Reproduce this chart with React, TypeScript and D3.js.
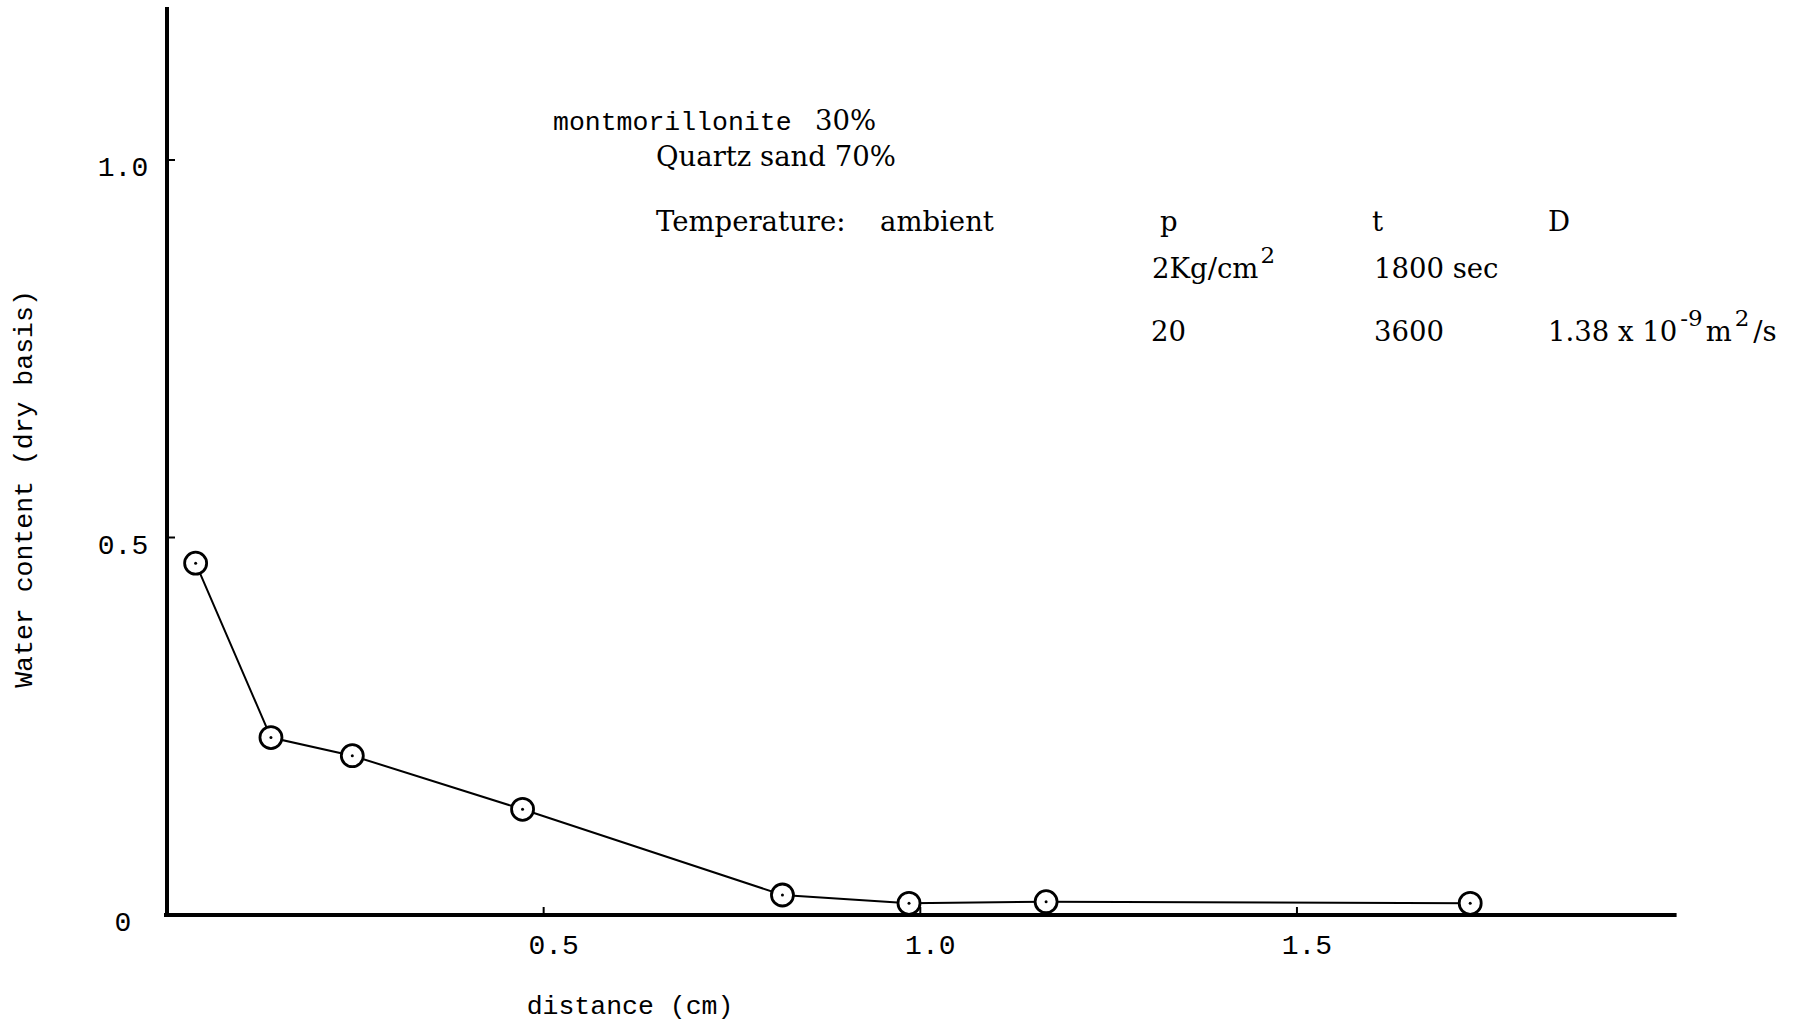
import React from "react";
import * as d3 from "d3";

// Measured water-content profile (dry basis) versus distance
const distanceCm = [0.038, 0.138, 0.246, 0.472, 0.817, 0.985, 1.167, 1.73];
const waterContent = [0.466, 0.235, 0.211, 0.14, 0.0265, 0.0155, 0.0176, 0.0155];

const xTicks = [0.5, 1.0, 1.5];
const xTickLabels = ["0.5", "1.0", "1.5"];
const yTicks = [0, 0.5, 1.0];
const yTickLabels = ["0", "0.5", "1.0"];

const W = 1801;
const H = 1025;

const MONO = "'Liberation Mono', 'DejaVu Sans Mono', monospace";
const SERIF = "'DejaVu Serif', 'Liberation Serif', serif";
const FS = 27.5;

export default function App() {
  const x = d3.scaleLinear().domain([0, 2]).range([167, 1673.6]);
  const y = d3.scaleLinear().domain([0, 1.2]).range([915, 9]);

  const pts = distanceCm.map((d, i) => [d, waterContent[i]] as [number, number]);
  const line = d3
    .line<[number, number]>()
    .x((d) => x(d[0]))
    .y((d) => y(d[1]));

  const x0 = x(0);
  const y0 = y(0);

  return (
    <svg
      width={W}
      height={H}
      viewBox={`0 0 ${W} ${H}`}
      style={{ position: "absolute", left: 0, top: 0, background: "#fff" }}
    >
      <rect x={0} y={0} width={W} height={H} fill="#fff" />

      {/* axes */}
      <line x1={x0} y1={y(1.2) - 2} x2={x0} y2={y0 + 2} stroke="#000" strokeWidth={4} />
      <line x1={x0 - 3} y1={y0} x2={x(2) + 3} y2={y0} stroke="#000" strokeWidth={4} />

      {/* y ticks */}
      {yTicks.map((v, i) => (
        <g key={`yt${i}`}>
          {v > 0 && (
            <line x1={x0} y1={y(v)} x2={x0 + 8} y2={y(v)} stroke="#000" strokeWidth={2} />
          )}
          <text
            x={123}
            y={y(v) + 16}
            textAnchor="middle"
            fontFamily={MONO}
            fontSize={28}
            fill="#000"
          >
            {yTickLabels[i]}
          </text>
        </g>
      ))}

      {/* x ticks */}
      {xTicks.map((v, i) => (
        <g key={`xt${i}`}>
          <line x1={x(v)} y1={y0} x2={x(v)} y2={y0 - 8} stroke="#000" strokeWidth={2} />
          <text
            x={x(v) + 10}
            y={954}
            textAnchor="middle"
            fontFamily={MONO}
            fontSize={28}
            fill="#000"
          >
            {xTickLabels[i]}
          </text>
        </g>
      ))}

      {/* axis titles */}
      <text
        x={630}
        y={1014}
        textAnchor="middle"
        fontFamily={MONO}
        fontSize={26.5}
        fill="#000"
      >
        distance (cm)
      </text>
      <text
        transform="translate(32,489) rotate(-90)"
        textAnchor="middle"
        fontFamily={MONO}
        fontSize={26.5}
        fill="#000"
      >
        Water content (dry basis)
      </text>

      {/* data line and markers */}
      <path d={line(pts) || ""} fill="none" stroke="#000" strokeWidth={2} />
      {pts.map((p, i) => (
        <g key={`pt${i}`}>
          <circle cx={x(p[0])} cy={y(p[1])} r={11} fill="#fff" stroke="#000" strokeWidth={2.8} />
          <circle cx={x(p[0])} cy={y(p[1])} r={1.5} fill="#000" />
        </g>
      ))}

      {/* annotation block */}
      <g fill="#000">
        <text x={553} y={130} fontFamily={MONO} fontSize={26.5}>
          montmorillonite
        </text>
        <text x={815} y={130} fontFamily={SERIF} fontSize={FS}>
          30%
        </text>
        <text x={656} y={166} fontFamily={SERIF} fontSize={FS}>
          Quartz sand 70%
        </text>
        <text x={656} y={231} fontFamily={SERIF} fontSize={FS}>
          Temperature:
        </text>
        <text x={880} y={231} fontFamily={SERIF} fontSize={FS}>
          ambient
        </text>

        <text x={1160} y={231} fontFamily={SERIF} fontSize={FS}>
          p
        </text>
        <text x={1372} y={231} fontFamily={SERIF} fontSize={FS}>
          t
        </text>
        <text x={1548} y={231} fontFamily={SERIF} fontSize={FS}>
          D
        </text>

        <text x={1152} y={278} fontFamily={SERIF} fontSize={FS}>
          2Kg/cm
          <tspan dx={2} dy={-15} fontSize={23}>
            2
          </tspan>
        </text>
        <text x={1374} y={278} fontFamily={SERIF} fontSize={FS}>
          1800 sec
        </text>

        <text x={1151} y={341} fontFamily={SERIF} fontSize={FS}>
          20
        </text>
        <text x={1374} y={341} fontFamily={SERIF} fontSize={FS}>
          3600
        </text>
        <text x={1548} y={341} fontFamily={SERIF} fontSize={FS}>
          1.38 x 10
          <tspan dx={3} dy={-15} fontSize={23}>
            -9
          </tspan>
          <tspan dx={3} dy={15}>m</tspan>
          <tspan dx={3} dy={-15} fontSize={23}>
            2
          </tspan>
          <tspan dx={4} dy={15}>/s</tspan>
        </text>
      </g>
    </svg>
  );
}
